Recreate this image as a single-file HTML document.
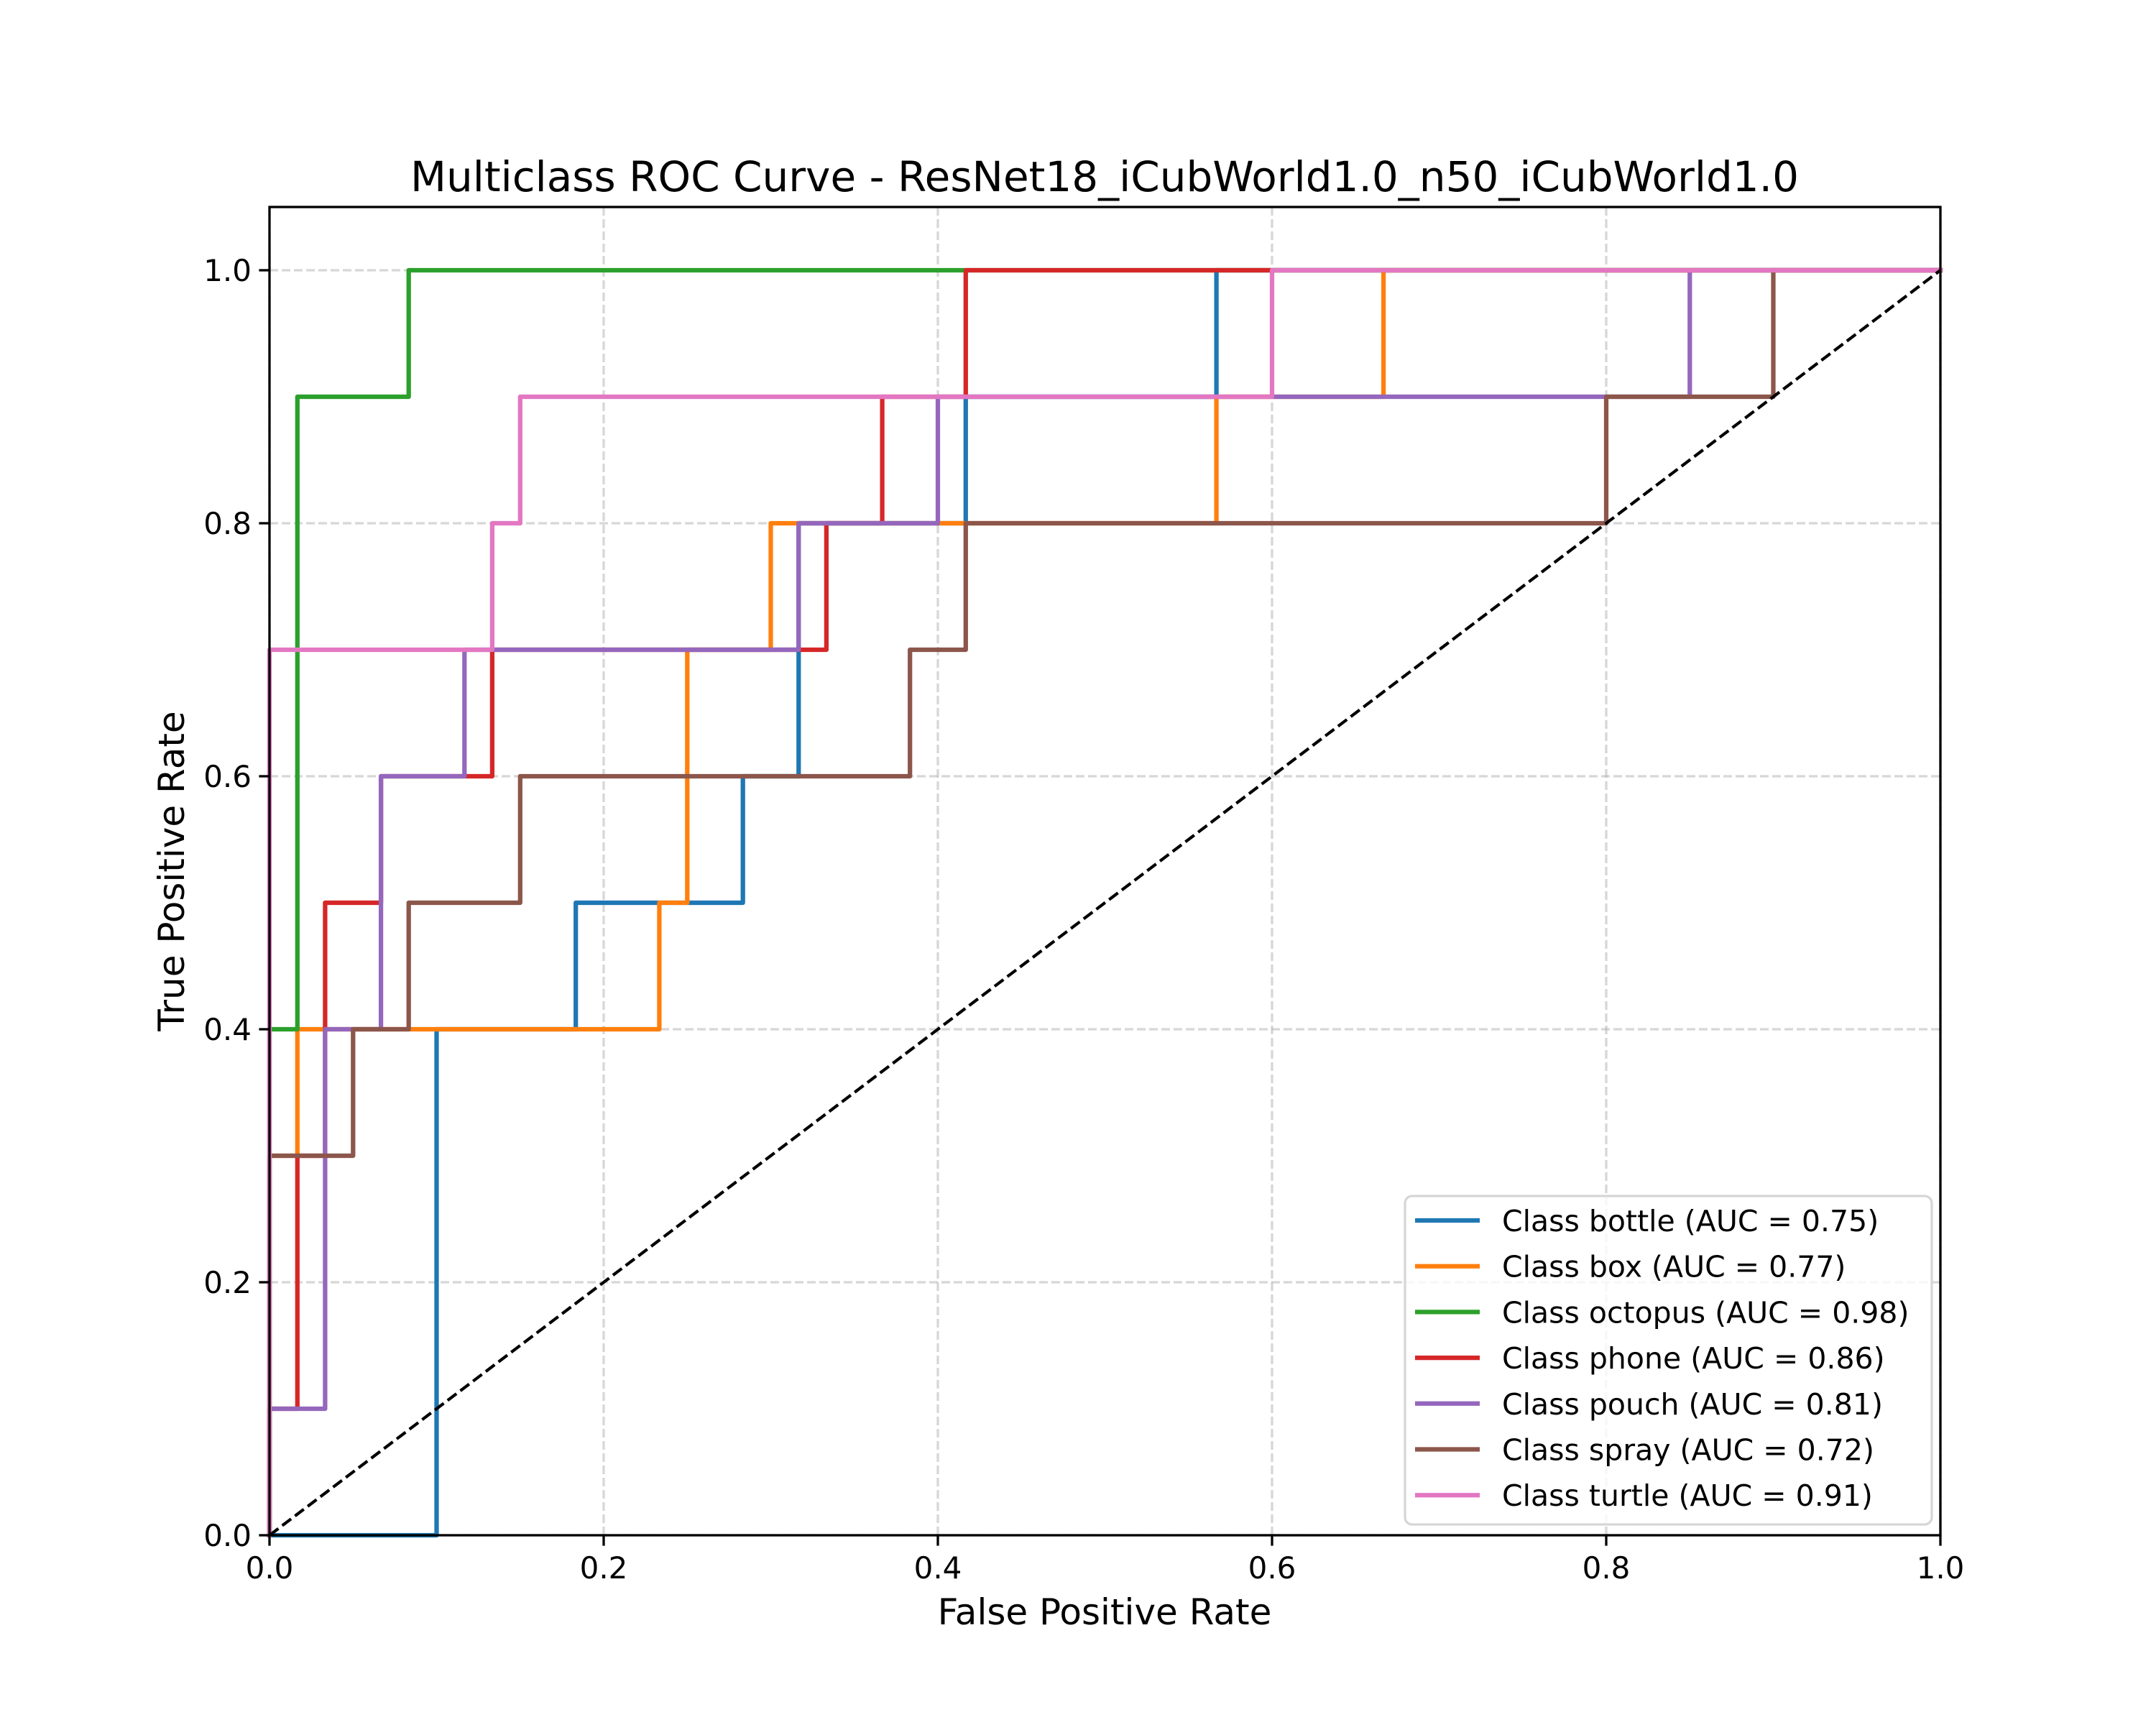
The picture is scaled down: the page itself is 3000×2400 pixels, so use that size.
<!DOCTYPE html>
<html><head><meta charset="utf-8"><style>
html,body{margin:0;padding:0;background:#fff;}
svg{display:block;font-family:"DejaVu Sans","Liberation Sans",sans-serif;}
</style></head><body>
<svg id="chart" width="3000" height="2400" viewBox="0 0 3000 2400" xmlns="http://www.w3.org/2000/svg">
<rect width="3000" height="2400" fill="#fff"/>
<g id="grid"></g>
<g id="series"></g>
<rect x="375" y="288" width="2325" height="1848" fill="none" stroke="#000" stroke-width="3.3"/>
<g id="ticks"></g>
<text x="1537" y="266" text-anchor="middle" font-size="58">Multiclass ROC Curve - ResNet18_iCubWorld1.0_n50_iCubWorld1.0</text>
<text x="1537" y="2260" text-anchor="middle" font-size="50">False Positive Rate</text>
<text transform="translate(256,1212) rotate(-90)" text-anchor="middle" font-size="50">True Positive Rate</text>
<g id="legend"></g>
</svg>
<script>
const classNames = ["bottle","box","octopus","phone","pouch","spray","turtle"];
const aucValues = [0.75,0.77,0.98,0.86,0.81,0.72,0.91];
const colors = ["#1f77b4","#ff7f0e","#2ca02c","#d62728","#9467bd","#8c564b","#e377c2"];
const fprBottle = [0,0.1,0.1,0.1833,0.1833,0.2833,0.2833,0.3167,0.3167,0.4167,0.4167,0.5667,0.5667,1];
const tprBottle = [0,0,0.4,0.4,0.5,0.5,0.6,0.6,0.8,0.8,0.9,0.9,1,1];
const fprBox = [0,0,0.0167,0.0167,0.2333,0.2333,0.25,0.25,0.3,0.3,0.5667,0.5667,0.6667,0.6667,1];
const tprBox = [0,0.3,0.3,0.4,0.4,0.5,0.5,0.7,0.7,0.8,0.8,0.9,0.9,1,1];
const fprOctopus = [0,0,0.0167,0.0167,0.0833,0.0833,1];
const tprOctopus = [0,0.4,0.4,0.9,0.9,1,1];
const fprPhone = [0,0,0.0167,0.0167,0.0333,0.0333,0.0667,0.0667,0.1333,0.1333,0.3333,0.3333,0.3667,0.3667,0.4167,0.4167,1];
const tprPhone = [0,0.1,0.1,0.3,0.3,0.5,0.5,0.6,0.6,0.7,0.7,0.8,0.8,0.9,0.9,1,1];
const fprPouch = [0,0,0.0333,0.0333,0.0667,0.0667,0.1167,0.1167,0.3167,0.3167,0.4,0.4,0.85,0.85,1];
const tprPouch = [0,0.1,0.1,0.4,0.4,0.6,0.6,0.7,0.7,0.8,0.8,0.9,0.9,1,1];
const fprSpray = [0,0,0.05,0.05,0.0833,0.0833,0.15,0.15,0.3833,0.3833,0.4167,0.4167,0.8,0.8,0.9,0.9,1];
const tprSpray = [0,0.3,0.3,0.4,0.4,0.5,0.5,0.6,0.6,0.7,0.7,0.8,0.8,0.9,0.9,1,1];
const fprTurtle = [0,0,0.1333,0.1333,0.15,0.15,0.6,0.6,1];
const tprTurtle = [0,0.7,0.7,0.8,0.8,0.9,0.9,1,1];
const xTicks = [0,0.2,0.4,0.6,0.8,1.0];
const yTicks = [0,0.2,0.4,0.6,0.8,1.0];
const tickLabels = ["0.0","0.2","0.4","0.6","0.8","1.0"];

const NS="http://www.w3.org/2000/svg";
const X0=375,X1=2700,Y0=2136,Y1=288,YMAX=1.05;
function xs(v){return X0+v*(X1-X0);}
function ys(v){return Y0-v/YMAX*(Y0-Y1);}
function mk(tag,attrs,parent){const e=document.createElementNS(NS,tag);for(const k in attrs)e.setAttribute(k,attrs[k]);parent.appendChild(e);return e;}
const grid=document.getElementById('grid'),ticks=document.getElementById('ticks'),series=document.getElementById('series'),legend=document.getElementById('legend');
xTicks.forEach((t,i)=>{
  const g=mk('line',{x1:xs(t),x2:xs(t),y1:Y1,y2:Y0,stroke:'#b0b0b0','stroke-opacity':0.5,'stroke-width':3.3,'stroke-dasharray':'12,5'},grid);
  
  
  const tk=mk('line',{x1:xs(t),x2:xs(t),y1:Y0,y2:Y0+14.6,stroke:'#000','stroke-width':3.3},ticks);
  
  
  const tx=mk('text',{x:xs(t),y:Y0+60,'text-anchor':'middle','font-size':42},ticks);
  tx.textContent=tickLabels[i];
  
  
});
yTicks.forEach((t,i)=>{
  const g=mk('line',{x1:X0,x2:X1,y1:ys(t),y2:ys(t),stroke:'#b0b0b0','stroke-opacity':0.5,'stroke-width':3.3,'stroke-dasharray':'12,5'},grid);
  
  
  const tk=mk('line',{x1:X0-14.6,x2:X0,y1:ys(t),y2:ys(t),stroke:'#000','stroke-width':3.3},ticks);
  
  
  const tx=mk('text',{x:X0-25,y:ys(t)+15,'text-anchor':'end','font-size':42},ticks);
  tx.textContent=tickLabels[i];
  
  
});
const fprs=[fprBottle,fprBox,fprOctopus,fprPhone,fprPouch,fprSpray,fprTurtle];
const tprs=[tprBottle,tprBox,tprOctopus,tprPhone,tprPouch,tprSpray,tprTurtle];
fprs.forEach((f,i)=>{
  const pts=f.map((v,j)=>xs(v).toFixed(1)+','+ys(tprs[i][j]).toFixed(1)).join(' ');
  const p=mk('polyline',{points:pts,fill:'none',stroke:colors[i],'stroke-width':6.25,'stroke-linejoin':'round','stroke-linecap':'square'},series);
  
  
});
const diag=mk('line',{x1:xs(0),y1:ys(0),x2:xs(1),y2:ys(1),stroke:'#000','stroke-width':4.2,'stroke-dasharray':'15.5,6.7'},series);


const box=mk('rect',{x:1955,y:1664,width:733,height:457,rx:10,fill:'#fff','fill-opacity':0.8,stroke:'#d6d6d6','stroke-width':3.3},legend);


classNames.forEach((c,i)=>{
  const y=1698+i*63.7;
  const l=mk('line',{x1:1969,x2:2059,y1:y,y2:y,stroke:colors[i],'stroke-width':6.25},legend);
  
  
  const t=mk('text',{x:2090,y:y+15,'font-size':41},legend);
  t.textContent='Class '+c+' (AUC = '+aucValues[i].toFixed(2)+')';
  
  
});
</script>
</body></html>
